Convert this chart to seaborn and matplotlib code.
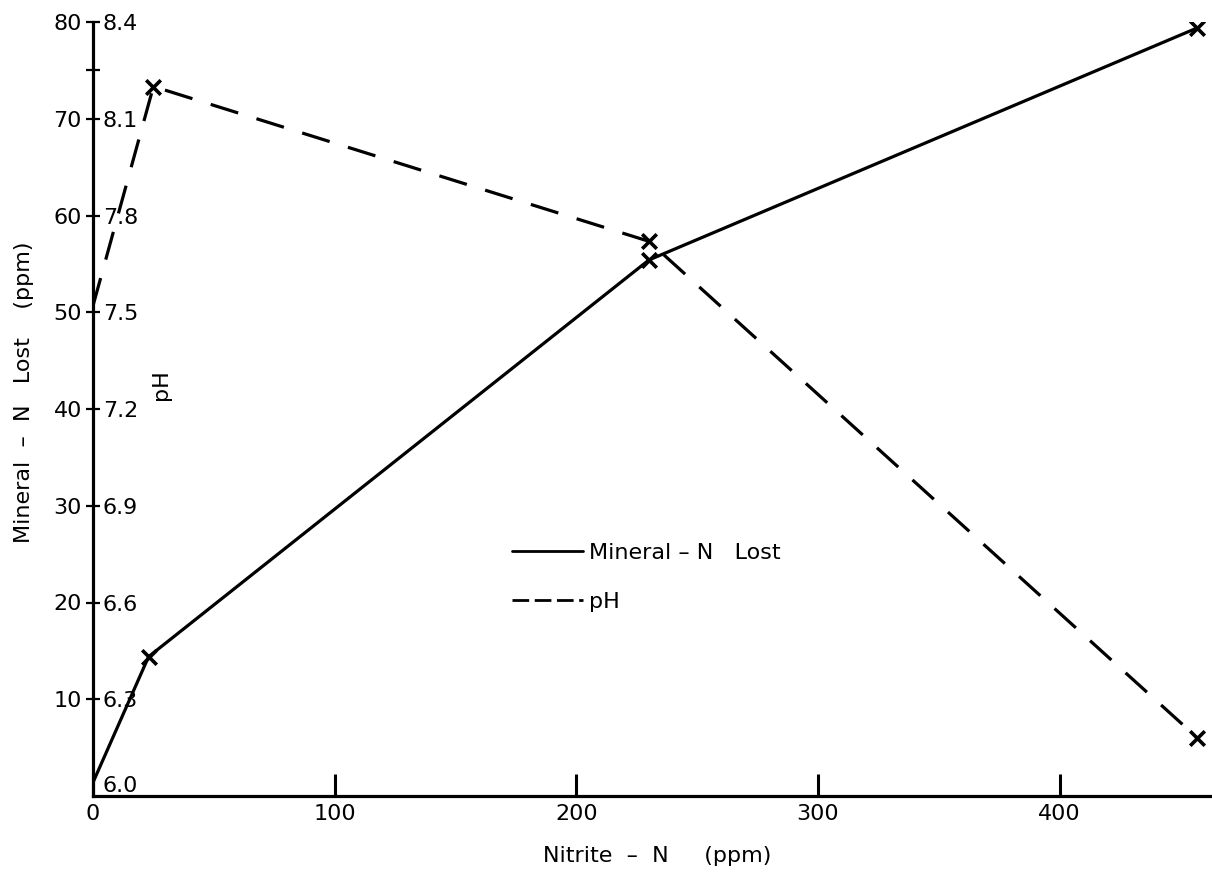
import matplotlib
matplotlib.use("Agg")
import matplotlib.pyplot as plt
from matplotlib.lines import Line2D
import seaborn as sns
import pandas as pd

# ---- data ----
nitrite_mineral = [0, 23, 230, 457]
mineral_lost = [1.4, 14.4, 55.4, 79.4]
nitrite_ph = [0, 25, 230, 457]
ph_values = [7.52, 8.20, 7.72, 6.18]

mineral_ticks = [10, 20, 30, 40, 50, 60, 70, 80]
ph_ticks = [6.0, 6.3, 6.6, 6.9, 7.2, 7.5, 7.8, 8.1, 8.4]
ph_tick_labels = ["6.0", "6.3", "6.6", "6.9", "7.2", "7.5", "7.8", "8.1", "8.4"]
x_ticks = [0, 100, 200, 300, 400]
x_tick_labels = ["0", "100", "200", "300", "400"]

sns.set_theme(style="ticks")
plt.rcParams["font.family"] = ["DejaVu Sans"]
plt.rcParams["text.color"] = "black"
plt.rcParams["axes.labelcolor"] = "black"
plt.rcParams["axes.edgecolor"] = "black"

fig = plt.figure(figsize=(12.12, 8.77), dpi=100)
ax = fig.add_axes([93 / 1212, 1 - 796 / 877, 1 - 93 / 1212, (796 - 22) / 877])
ax2 = ax.twinx()

df_m = pd.DataFrame({"x": nitrite_mineral, "y": mineral_lost})
df_p = pd.DataFrame({"x": nitrite_ph, "y": ph_values})

sns.lineplot(data=df_m, x="x", y="y", ax=ax, color="black", lw=2.3, legend=False)
sns.scatterplot(data=df_m.iloc[1:], x="x", y="y", ax=ax, marker="x", s=110,
                color="black", linewidth=2.6, legend=False, zorder=5)

sns.lineplot(data=df_p, x="x", y="y", ax=ax2, color="black", lw=2.3, legend=False)
ax2.lines[-1].set_dashes((9, 6))
sns.scatterplot(data=df_p.iloc[1:], x="x", y="y", ax=ax2, marker="x", s=110,
                color="black", linewidth=2.6, legend=False, zorder=5)

ax.set_xlim(0, 463)
ax.set_ylim(0, 80)
ax2.set_ylim(6.0, 8.4)

for s in ["top", "right"]:
    ax.spines[s].set_visible(False)
for s in ["top", "left", "bottom"]:
    ax2.spines[s].set_visible(False)
ax2.spines["right"].set_position(("axes", 0))
ax2.spines["right"].set_visible(False)
ax.spines["left"].set_linewidth(2.3)
ax.spines["bottom"].set_linewidth(2.3)

ax.set_xticks(x_ticks)
ax.set_xticklabels(x_tick_labels)
ax.tick_params(axis="x", direction="in", length=16, width=2.2, pad=6,
               labelsize=16, colors="black")
ax.set_yticks(mineral_ticks)
ax.set_yticks([75], minor=True)
ax.tick_params(axis="y", which="both", direction="inout", length=10, width=1.6,
               pad=3, labelsize=16, colors="black")

ax2.set_yticks(ph_ticks)
ax2.set_yticklabels(ph_tick_labels)
ax2.tick_params(axis="y", length=0, pad=7, labelsize=16, colors="black")
ax2.get_yticklabels()[0].set_va("bottom")

ax.set_xlabel("Nitrite  –  N     (ppm)", fontsize=16)
ax.xaxis.set_label_coords((657 - 93) / 1119, -(846 - 796) / 774)
ax.set_ylabel("Mineral  –  N   Lost    (ppm)", fontsize=16)
ax.yaxis.set_label_coords((34 - 93) / 1119, (796 - 392) / 774)
ax2.set_ylabel("pH", fontsize=16, rotation=90)
ax2.yaxis.set_label_coords((151 - 93) / 1119, (796 - 385) / 774)

handles = [
    Line2D([], [], color="black", lw=2.0),
    Line2D([], [], color="black", lw=2.0, dashes=(6, 2)),
]
ax.legend(handles, ["Mineral – N   Lost", "pH"], loc="upper left",
          bbox_to_anchor=(512 / 1212, 1 - 543 / 877), bbox_transform=fig.transFigure,
          frameon=False, fontsize=16, handlelength=3.2, handletextpad=0.25,
          labelspacing=1.3, borderpad=0, borderaxespad=0)

fig.savefig("out.png", dpi=100)
